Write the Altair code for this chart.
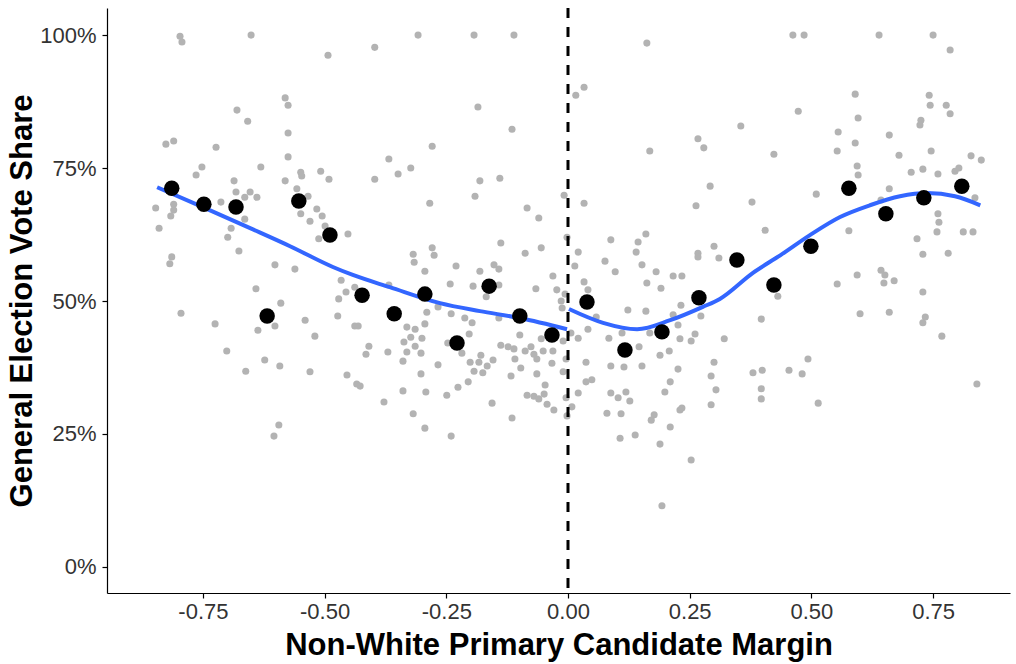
import altair as alt
import pandas as pd

# Districts: primary margin of the non-white candidate vs. general election vote share (%)
margin = [
    -0.797, -0.793, -0.651, -0.581, -0.575, -0.680, -0.658, -0.575, -0.826, -0.810,
    -0.723, -0.575, -0.631, -0.752, -0.764, -0.581, -0.686, -0.682, -0.653, -0.664,
    -0.639, -0.713, -0.847, -0.810, -0.810, -0.816, -0.840, -0.664, -0.692, -0.699,
    -0.676, -0.814, -0.818, -0.602, -0.641, -0.590, -0.795, -0.725, -0.637, -0.602,
    -0.701, -0.623, -0.592, -0.662, -0.594, -0.604, -0.308, -0.397, -0.493, -0.279,
    -0.368, -0.323, -0.349, -0.397, -0.549, -0.547, -0.508, -0.491, -0.557, -0.534,
    -0.516, -0.505, -0.549, -0.530, -0.499, -0.512, -0.452, -0.284, -0.318, -0.316,
    -0.275, -0.279, -0.294, -0.561, -0.466, -0.456, -0.471, -0.438, -0.368, -0.290,
    -0.267, -0.540, -0.473, -0.520, -0.438, -0.431, -0.331, -0.314, -0.294, -0.323,
    -0.300, -0.337, -0.314, -0.409, -0.415, -0.370, -0.331, -0.302, -0.339, -0.267,
    -0.302, -0.530, -0.454, -0.434, -0.427, -0.339, -0.292, -0.378, -0.318, -0.294,
    -0.193, -0.111, -0.185, -0.115, -0.181, -0.140, -0.191, -0.008, -0.084, -0.060,
    -0.002, -0.138, -0.055, -0.088, -0.230, -0.181, -0.152, -0.142, -0.031, -0.242,
    -0.195, -0.142, -0.168, -0.066, -0.023, -0.006, -0.014, -0.012, -0.240, -0.212,
    -0.197, -0.203, -0.142, -0.099, -0.055, -0.027, -0.010, -0.247, -0.218, -0.138,
    -0.123, -0.111, -0.076, -0.088, -0.070, -0.051, -0.031, -0.179, -0.201, -0.183,
    -0.154, -0.166, -0.193, -0.175, -0.109, -0.064, -0.033, -0.004, -0.097, -0.010,
    -0.117, -0.064, -0.205, -0.226, -0.249, -0.047, -0.084, -0.070, -0.060, -0.049,
    -0.004, -0.156, -0.043, -0.029, -0.002, -0.115, -0.240,
    0.033, 0.016, 0.033, 0.021, 0.014, 0.006, 0.021, 0.041, 0.033, 0.037,
    0.021, 0.008, 0.037, 0.162, 0.267, 0.279, 0.168, 0.292, 0.263, 0.160,
    0.144, 0.088, 0.140, 0.076, 0.152, 0.097, 0.181, 0.216, 0.234, 0.267,
    0.267, 0.300, 0.310, 0.162, 0.191, 0.041, 0.123, 0.160, 0.216, 0.232,
    0.273, 0.058, 0.226, 0.084, 0.111, 0.168, 0.230, 0.253, 0.261, 0.146,
    0.208, 0.189, 0.088, 0.115, 0.152, 0.226, 0.300, 0.294, 0.304, 0.049,
    0.210, 0.088, 0.103, 0.119, 0.127, 0.199, 0.080, 0.109, 0.177, 0.171,
    0.230, 0.234, 0.294, 0.210, 0.138, 0.107, 0.189, 0.253, 0.193, 0.462,
    0.485, 0.590, 0.473, 0.355, 0.596, 0.555, 0.590, 0.423, 0.553, 0.594,
    0.596, 0.510, 0.378, 0.405, 0.577, 0.594, 0.553, 0.431, 0.600, 0.397,
    0.321, 0.493, 0.380, 0.399, 0.454, 0.481, 0.397, 0.397, 0.514, 0.639,
    0.750, 0.785, 0.742, 0.744, 0.777, 0.785, 0.725, 0.723, 0.660, 0.680,
    0.746, 0.828, 0.849, 0.705, 0.729, 0.760, 0.795, 0.803, 0.660, 0.643,
    0.836, 0.760, 0.762, 0.758, 0.812, 0.832, 0.717, 0.729, 0.781, 0.643,
    0.651, 0.649, 0.670, 0.729, 0.660, 0.734, 0.729, 0.768, 0.840,
]
share = [
    99.8, 98.7, 100.0, 88.2, 86.8, 85.9, 83.8, 81.6, 79.5, 80.1,
    78.9, 77.1, 75.2, 75.2, 73.7, 72.6, 72.6, 70.5, 70.5, 69.5,
    69.5, 68.6, 67.5, 68.2, 67.1, 66.0, 63.7, 65.4, 63.7, 62.0,
    59.4, 58.3, 57.0, 56.8, 52.3, 49.6, 47.7, 45.7, 44.5, 45.3,
    40.6, 38.9, 37.8, 36.8, 26.7, 24.6, 100.0, 97.7, 96.2, 79.1,
    76.7, 75.0, 73.9, 72.9, 74.2, 73.5, 74.4, 72.9, 71.1, 69.7,
    67.3, 66.0, 66.4, 65.0, 64.1, 61.7, 62.6, 68.4, 58.8, 57.3,
    58.6, 60.0, 55.6, 56.0, 53.9, 51.7, 50.4, 52.6, 53.0, 47.9,
    48.9, 46.4, 47.2, 43.4, 45.3, 45.3, 45.1, 44.7, 45.7, 43.2,
    43.0, 42.3, 41.5, 41.5, 40.0, 40.4, 40.4, 40.2, 38.7, 38.0,
    36.3, 36.7, 36.1, 34.4, 34.0, 33.1, 32.9, 31.0, 28.8, 26.1,
    100.0, 100.0, 86.5, 82.3, 72.6, 73.1, 69.7, 69.9, 67.5, 65.6,
    62.0, 60.9, 60.0, 59.0, 56.6, 55.6, 56.8, 56.0, 54.7, 53.2,
    52.8, 53.0, 50.8, 52.3, 52.1, 51.3, 50.0, 48.7, 47.6, 46.8,
    45.9, 43.8, 46.8, 43.6, 42.9, 43.6, 42.5, 42.1, 40.2, 41.7,
    41.4, 41.0, 41.4, 40.6, 40.0, 40.6, 40.6, 39.8, 38.5, 38.5,
    38.9, 37.8, 36.8, 36.5, 39.1, 39.1, 38.3, 39.1, 37.4, 36.7,
    35.9, 36.3, 34.8, 33.8, 32.3, 34.2, 32.3, 32.1, 31.6, 32.5,
    31.8, 30.8, 30.6, 29.5, 28.4, 28.0, 24.6,
    90.2, 88.7, 68.4, 59.2, 56.6, 44.0, 43.0, 44.7, 53.6, 38.5,
    32.7, 30.1, 34.8, 98.5, 80.5, 78.8, 78.2, 71.6, 67.9, 62.6,
    61.1, 61.5, 59.2, 57.5, 56.8, 55.5, 55.5, 54.7, 54.7, 59.0,
    58.3, 60.3, 58.1, 53.4, 52.4, 52.1, 48.3, 48.1, 47.4, 49.2,
    47.2, 47.0, 45.5, 43.0, 44.0, 44.0, 42.9, 42.5, 43.8, 41.4,
    40.6, 39.8, 37.8, 37.6, 37.8, 37.2, 38.5, 35.9, 33.3, 35.2,
    34.8, 32.7, 31.8, 32.9, 31.2, 32.9, 28.9, 28.8, 28.6, 27.6,
    29.5, 29.9, 30.5, 26.3, 24.8, 24.2, 23.1, 20.1, 11.5, 100.0,
    100.0, 88.9, 85.7, 82.9, 84.4, 81.8, 79.7, 77.6, 78.2, 75.4,
    73.7, 70.1, 68.6, 63.3, 63.2, 54.9, 53.2, 50.9, 47.6, 46.6,
    42.9, 39.1, 36.5, 37.0, 37.0, 36.3, 33.5, 31.6, 30.8, 100.0,
    100.0, 97.2, 88.7, 86.8, 86.8, 85.2, 84.0, 83.1, 81.2, 77.4,
    78.2, 77.3, 76.5, 74.2, 74.8, 73.9, 74.4, 75.0, 71.1, 69.0,
    69.4, 66.4, 64.8, 63.0, 63.0, 63.0, 61.7, 58.8, 59.0, 55.8,
    54.9, 53.4, 53.8, 51.7, 47.9, 47.0, 45.9, 43.4, 34.4,
]

# Binned means
bin_margin = [
    -0.814, -0.748, -0.682, -0.618, -0.553, -0.489, -0.423, -0.357, -0.294,
    -0.228, -0.162, -0.099, -0.033,
    0.039, 0.117, 0.193, 0.269, 0.347, 0.423, 0.499, 0.577, 0.653, 0.731, 0.809,
]
bin_share = [
    71.2, 68.2, 67.7, 47.2, 68.8, 62.4, 51.1, 47.6, 51.3,
    42.1, 52.8, 47.2, 43.6,
    49.8, 40.8, 44.2, 50.6, 57.7, 53.0, 60.3, 71.2, 66.4, 69.4, 71.6,
]

# Smoothed fits on each side of the cutoff
fit_left_margin = [-0.844, -0.756, -0.653, -0.571, -0.483, -0.442, -0.366, -0.263, -0.181, -0.099, -0.002]
fit_left_share = [71.4, 67.9, 63.7, 60.3, 56.4, 54.9, 52.6, 49.6, 48.1, 46.8, 44.7]
fit_right_margin = [0.002, 0.072, 0.142, 0.210, 0.277, 0.312, 0.380, 0.436, 0.497, 0.559, 0.620, 0.682, 0.738, 0.795, 0.847]
fit_right_share = [48.5, 45.9, 44.7, 46.4, 48.9, 50.4, 55.3, 58.6, 62.4, 65.8, 68.0, 69.7, 70.3, 69.7, 68.0]

points = pd.DataFrame({"margin": margin, "share": share})
bins = pd.DataFrame({"margin": bin_margin, "share": bin_share})
fit = pd.concat([
    pd.DataFrame({"margin": fit_left_margin, "share": fit_left_share, "side": "left"}),
    pd.DataFrame({"margin": fit_right_margin, "share": fit_right_share, "side": "right"}),
])
cutoff = pd.DataFrame({"margin": [0.0]})

FONT = "Liberation Sans"

x_scale = alt.Scale(domain=[-0.947, 0.908], nice=False, zero=False)
y_scale = alt.Scale(domain=[-4.9, 105.1], nice=False, zero=False)

x_enc = alt.X(
    "margin:Q", scale=x_scale,
    axis=alt.Axis(
        title="Non-White Primary Candidate Margin",
        values=[-0.75, -0.5, -0.25, 0, 0.25, 0.5, 0.75],
        labelExpr="replace(format(datum.value, '.2f'), '\u2212', '-')",
        labelPadding=3,
        titlePadding=8,
    ),
)
y_enc = alt.Y(
    "share:Q", scale=y_scale,
    axis=alt.Axis(
        title="General Election Vote Share",
        values=[0, 25, 50, 75, 100],
        labelExpr="datum.value + '%'",
        labelPadding=6,
        titlePadding=1,
    ),
)

raw = alt.Chart(points).mark_circle(size=50, color="#B3B3B3", opacity=1).encode(x=x_enc, y=y_enc)

smooth = alt.Chart(fit).mark_line(
    color="#3366FF", strokeWidth=4, interpolate="monotone"
).encode(x=alt.X("margin:Q", scale=x_scale), y=alt.Y("share:Q", scale=y_scale), detail="side:N")

binned = alt.Chart(bins).mark_circle(size=240, color="black", opacity=1).encode(
    x=alt.X("margin:Q", scale=x_scale), y=alt.Y("share:Q", scale=y_scale)
)

vline = alt.Chart(cutoff).mark_rule(color="black", strokeWidth=3, strokeDash=[10, 9]).encode(
    x=alt.X("margin:Q", scale=x_scale)
)

chart = (
    alt.layer(raw, smooth, binned, vline)
    .properties(
        width=903, height=585,
        autosize=alt.AutoSizeParams(type="none"),
        padding={"left": 107, "top": 8, "right": 6, "bottom": 71},
        background="white",
    )
    .configure_view(stroke=None)
    .configure_axis(
        grid=False,
        domainColor="black", domainWidth=1.2,
        tickColor="black", tickSize=5, tickWidth=1.2,
        labelFont=FONT, labelFontSize=22, labelColor="#333333",
        titleFont=FONT, titleFontSize=31, titleFontWeight="bold", titleColor="black",
    )
)

chart.save("out.html", embed_options={"renderer": "svg", "actions": False})
